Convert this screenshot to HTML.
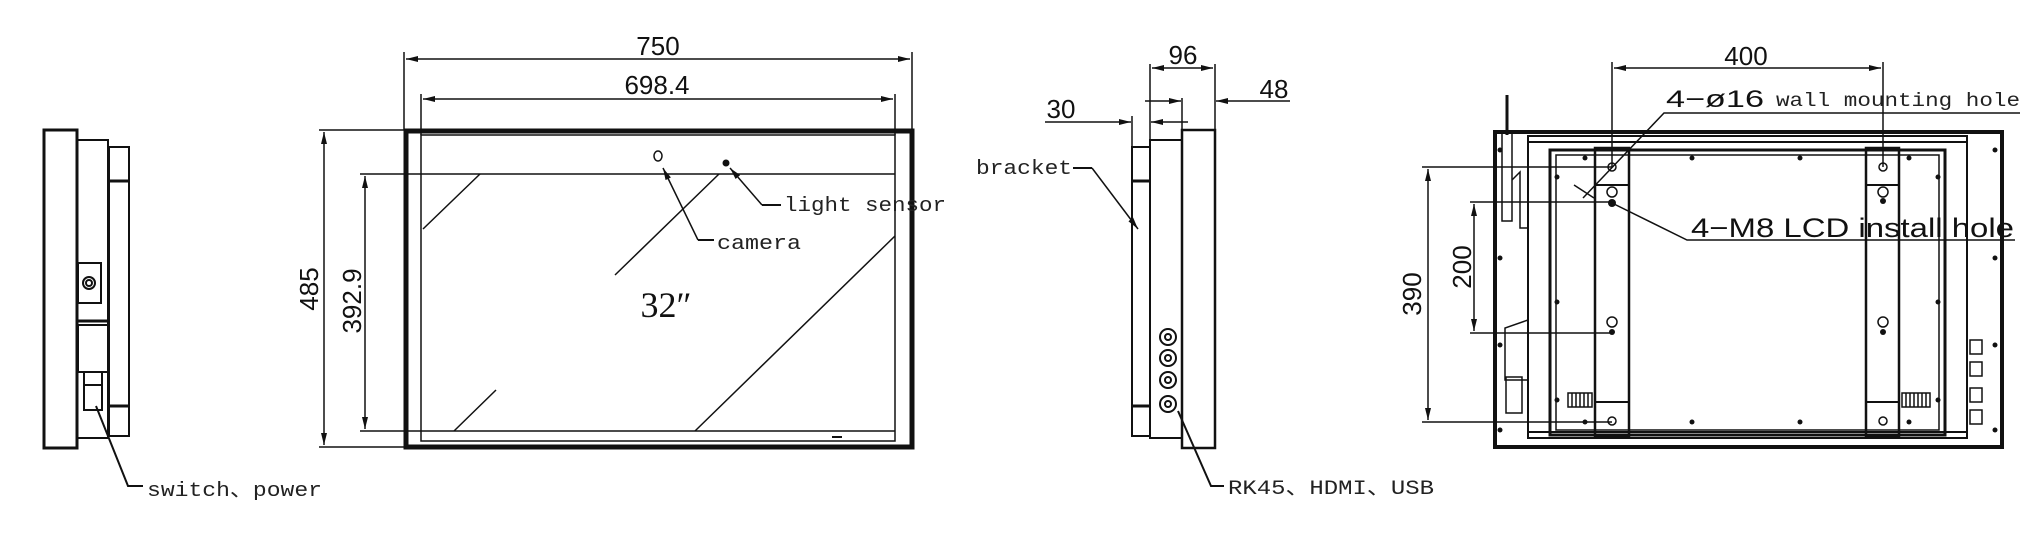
<!DOCTYPE html>
<html><head><meta charset="utf-8"><style>
html,body{margin:0;padding:0;background:#fff;}
svg{display:block;}
.s{font-family:"Liberation Sans",sans-serif;fill:#111;}
.m{font-family:"Liberation Mono","Liberation Serif",monospace;fill:#222;}
</style></head><body>
<svg width="2035" height="537" viewBox="0 0 2035 537" xmlns="http://www.w3.org/2000/svg">
<defs>
<marker id="a" viewBox="0 0 12 6" refX="12" refY="3" markerWidth="12" markerHeight="6" orient="auto-start-reverse" markerUnits="userSpaceOnUse"><path d="M0,0 L12,3 L0,6z" fill="#111"/></marker>
</defs>
<g stroke="#111" fill="none" stroke-width="2">
<!-- LEFT SIDE VIEW -->
<rect x="44" y="130" width="33" height="318" stroke-width="3"/>
<rect x="77" y="140" width="31" height="298"/>
<rect x="109" y="147" width="20" height="289"/>
<line x1="109" y1="181" x2="129" y2="181" stroke-width="3"/>
<line x1="109" y1="406" x2="129" y2="406" stroke-width="3"/>
<rect x="78" y="263" width="23" height="40"/>
<circle cx="89" cy="283" r="6"/><circle cx="89" cy="283" r="3"/>
<line x1="77" y1="321" x2="108" y2="321" stroke-width="3"/>
<rect x="78" y="325" width="30" height="47"/>
<rect x="84" y="372" width="18" height="38"/>
<line x1="84" y1="385" x2="102" y2="385"/>
<polyline points="96,406 128,486 143,486"/>
<!-- FRONT VIEW -->
<rect x="406" y="131" width="506" height="316" stroke-width="5"/>
<rect x="421" y="135" width="474" height="306" stroke-width="1.5"/>
<line x1="360" y1="174" x2="895" y2="174" stroke-width="1.5"/>
<line x1="360" y1="431" x2="895" y2="431" stroke-width="1.5"/>
<line x1="319" y1="130" x2="406" y2="130" stroke-width="1.5"/>
<line x1="319" y1="447" x2="406" y2="447" stroke-width="1.5"/>
<line x1="324" y1="132" x2="324" y2="445" stroke-width="1.5" marker-start="url(#a)" marker-end="url(#a)"/>
<line x1="365" y1="176" x2="365" y2="429" stroke-width="1.5" marker-start="url(#a)" marker-end="url(#a)"/>
<line x1="404" y1="52" x2="404" y2="130" stroke-width="1.5"/>
<line x1="912" y1="52" x2="912" y2="130" stroke-width="1.5"/>
<line x1="406" y1="59" x2="910" y2="59" stroke-width="1.5" marker-start="url(#a)" marker-end="url(#a)"/>
<line x1="421" y1="94" x2="421" y2="135" stroke-width="1.5"/>
<line x1="895" y1="94" x2="895" y2="135" stroke-width="1.5"/>
<line x1="423" y1="99" x2="893" y2="99" stroke-width="1.5" marker-start="url(#a)" marker-end="url(#a)"/>
<line x1="480" y1="174" x2="423" y2="229" stroke-width="1.5"/>
<line x1="719" y1="174" x2="615" y2="275" stroke-width="1.5"/>
<line x1="895" y1="236" x2="695" y2="431" stroke-width="1.5"/>
<line x1="496" y1="390" x2="454" y2="431" stroke-width="1.5"/>
<ellipse cx="658" cy="156" rx="4" ry="5" stroke-width="1.5"/>
<polyline points="698,240 714,240" stroke-width="2"/>
<line x1="698" y1="240" x2="663" y2="168" stroke-width="1.5" marker-end="url(#a)"/>
<circle cx="726" cy="163" r="2.5" fill="#111"/>
<line x1="762" y1="205" x2="781" y2="205" stroke-width="2"/>
<line x1="762" y1="205" x2="730" y2="168" stroke-width="1.5" marker-end="url(#a)"/>
<line x1="832" y1="437" x2="842" y2="437" stroke-width="2"/>
<!-- RIGHT SIDE VIEW -->
<rect x="1132" y="147" width="18" height="289"/>
<line x1="1132" y1="181" x2="1150" y2="181" stroke-width="3"/>
<line x1="1132" y1="406" x2="1150" y2="406" stroke-width="3"/>
<rect x="1150" y="140" width="32" height="298"/>
<rect x="1182" y="130" width="33" height="318" stroke-width="2.5"/>
<line x1="1150" y1="64" x2="1150" y2="140" stroke-width="1.5"/>
<line x1="1215" y1="64" x2="1215" y2="130" stroke-width="1.5"/>
<line x1="1152" y1="68" x2="1213" y2="68" stroke-width="1.5" marker-start="url(#a)" marker-end="url(#a)"/>
<line x1="1182" y1="98" x2="1182" y2="130" stroke-width="1.5"/>
<line x1="1145" y1="101" x2="1181" y2="101" stroke-width="1.5" marker-end="url(#a)"/>
<line x1="1290" y1="101" x2="1216" y2="101" stroke-width="1.5" marker-end="url(#a)"/>
<line x1="1132" y1="116" x2="1132" y2="147" stroke-width="1.5"/>
<line x1="1045" y1="122" x2="1131" y2="122" stroke-width="1.5" marker-end="url(#a)"/>
<line x1="1188" y1="122" x2="1151" y2="122" stroke-width="1.5" marker-end="url(#a)"/>
<polyline points="1073,168 1092,168" stroke-width="2"/>
<line x1="1092" y1="168" x2="1138" y2="229" stroke-width="1.5" marker-end="url(#a)"/>
<g stroke-width="2">
<circle cx="1168" cy="337" r="8"/><circle cx="1168" cy="337" r="3"/>
<circle cx="1168" cy="358" r="8"/><circle cx="1168" cy="358" r="3"/>
<circle cx="1168" cy="380" r="8"/><circle cx="1168" cy="380" r="3"/>
<circle cx="1168" cy="404" r="8"/><circle cx="1168" cy="404" r="3"/>
</g>
<polyline points="1178,411 1211,486 1224,486"/>
<!-- BACK VIEW -->
<rect x="1495" y="132" width="507" height="315" stroke-width="4"/>
<rect x="1528" y="136" width="439" height="302" stroke-width="2"/>
<line x1="1528" y1="142" x2="1967" y2="142"/>
<line x1="1528" y1="432" x2="1967" y2="432"/>
<rect x="1550" y="150" width="395" height="285" stroke-width="3"/>
<rect x="1556" y="155" width="383" height="275" stroke-width="1.5"/>
<rect x="1595" y="148" width="34" height="288" stroke-width="2.5"/>
<rect x="1866" y="148" width="33" height="288" stroke-width="2.5"/>
<line x1="1595" y1="185" x2="1629" y2="185"/><line x1="1866" y1="185" x2="1899" y2="185"/>
<line x1="1595" y1="402" x2="1629" y2="402"/><line x1="1866" y1="402" x2="1899" y2="402"/>
<g stroke-width="1.5">
<circle cx="1612" cy="167" r="4"/><circle cx="1883" cy="167" r="4"/>
<circle cx="1612" cy="192" r="5"/><circle cx="1883" cy="192" r="5"/>
<circle cx="1612" cy="322" r="5"/><circle cx="1883" cy="322" r="5"/>
<circle cx="1612" cy="421" r="4"/><circle cx="1883" cy="421" r="4"/>
</g>
<g fill="#111" stroke="none">
<circle cx="1612" cy="203" r="4"/><circle cx="1883" cy="201" r="3"/>
<circle cx="1612" cy="332" r="3"/><circle cx="1883" cy="332" r="3"/>
<circle cx="1585" cy="158" r="2.5"/><circle cx="1692" cy="158" r="2.5"/><circle cx="1800" cy="158" r="2.5"/><circle cx="1909" cy="158" r="2.5"/>
<circle cx="1585" cy="422" r="2.5"/><circle cx="1692" cy="422" r="2.5"/><circle cx="1800" cy="422" r="2.5"/><circle cx="1909" cy="422" r="2.5"/>
<circle cx="1557" cy="177" r="2.5"/><circle cx="1557" cy="302" r="2.5"/><circle cx="1557" cy="400" r="2.5"/>
<circle cx="1938" cy="177" r="2.5"/><circle cx="1938" cy="302" r="2.5"/><circle cx="1938" cy="400" r="2.5"/>
<circle cx="1500" cy="150" r="2.5"/><circle cx="1500" cy="258" r="2.5"/><circle cx="1500" cy="345" r="2.5"/><circle cx="1500" cy="430" r="2.5"/>
<circle cx="1995" cy="150" r="2.5"/><circle cx="1995" cy="258" r="2.5"/><circle cx="1995" cy="345" r="2.5"/><circle cx="1995" cy="430" r="2.5"/>
</g>
<!-- antenna / side parts -->
<line x1="1507" y1="95" x2="1507" y2="135" stroke-width="3"/>
<rect x="1502" y="133" width="10" height="88" stroke-width="1.5"/>
<polyline points="1512,180 1520,172 1520,228 1528,228" stroke-width="1.5"/>
<polyline points="1528,320 1505,328 1505,380 1528,380" stroke-width="1.5"/>
<rect x="1506" y="377" width="16" height="36" stroke-width="1.5"/>
<g stroke-width="1.5">
<rect x="1568" y="393" width="24" height="14"/><line x1="1572" y1="393" x2="1572" y2="407"/><line x1="1576" y1="393" x2="1576" y2="407"/><line x1="1580" y1="393" x2="1580" y2="407"/><line x1="1584" y1="393" x2="1584" y2="407"/><line x1="1588" y1="393" x2="1588" y2="407"/>
<rect x="1902" y="393" width="28" height="14"/><line x1="1906" y1="393" x2="1906" y2="407"/><line x1="1910" y1="393" x2="1910" y2="407"/><line x1="1914" y1="393" x2="1914" y2="407"/><line x1="1918" y1="393" x2="1918" y2="407"/><line x1="1922" y1="393" x2="1922" y2="407"/><line x1="1926" y1="393" x2="1926" y2="407"/>
<rect x="1970" y="340" width="12" height="14"/><rect x="1970" y="362" width="12" height="14"/><rect x="1970" y="388" width="12" height="14"/><rect x="1970" y="410" width="12" height="14"/>
</g>
<!-- dims -->
<line x1="1612" y1="62" x2="1612" y2="167" stroke-width="1.5"/>
<line x1="1883" y1="62" x2="1883" y2="167" stroke-width="1.5"/>
<line x1="1614" y1="68" x2="1881" y2="68" stroke-width="1.5" marker-start="url(#a)" marker-end="url(#a)"/>
<line x1="1422" y1="167" x2="1612" y2="167" stroke-width="1.5"/>
<line x1="1422" y1="422" x2="1612" y2="422" stroke-width="1.5"/>
<line x1="1428" y1="169" x2="1428" y2="420" stroke-width="1.5" marker-start="url(#a)" marker-end="url(#a)"/>
<line x1="1470" y1="202" x2="1612" y2="202" stroke-width="1.5"/>
<line x1="1470" y1="333" x2="1612" y2="333" stroke-width="1.5"/>
<line x1="1474" y1="204" x2="1474" y2="331" stroke-width="1.5" marker-start="url(#a)" marker-end="url(#a)"/>
<polyline points="2020,113 1664,113 1583,198" stroke-width="1.5"/>
<line x1="1574" y1="185" x2="1594" y2="198" stroke-width="1.5"/>
<polyline points="2015,240 1687,240 1612,203" stroke-width="1.5"/>
</g>
<!-- TEXT -->
<text class="m" x="147" y="496" font-size="20" textLength="175" lengthAdjust="spacingAndGlyphs">switch、power</text>
<text class="s" x="658" y="55" font-size="26" text-anchor="middle">750</text>
<text class="s" x="657" y="94" font-size="26" text-anchor="middle">698.4</text>
<text class="s" font-size="26" text-anchor="middle" transform="translate(318,289) rotate(-90)">485</text>
<text class="s" font-size="26" text-anchor="middle" transform="translate(361,301) rotate(-90)">392.9</text>
<text class="m" x="717" y="249" font-size="20" textLength="84" lengthAdjust="spacingAndGlyphs">camera</text>
<text class="m" x="784" y="211" font-size="20" textLength="162" lengthAdjust="spacingAndGlyphs">light sensor</text>
<text x="666" y="317" font-size="36" text-anchor="middle" font-family="Liberation Serif,serif" fill="#111">32″</text>
<text class="s" x="1183" y="64" font-size="26" text-anchor="middle">96</text>
<text class="s" x="1274" y="98" font-size="26" text-anchor="middle">48</text>
<text class="s" x="1061" y="118" font-size="26" text-anchor="middle">30</text>
<text class="m" x="976" y="174" font-size="20" textLength="96" lengthAdjust="spacingAndGlyphs">bracket</text>
<text class="m" x="1228" y="494" font-size="20" textLength="206" lengthAdjust="spacingAndGlyphs">RK45、HDMI、USB</text>
<text class="s" x="1746" y="65" font-size="26" text-anchor="middle">400</text>
<text class="s" font-size="26" text-anchor="middle" transform="translate(1421,294) rotate(-90)">390</text>
<text class="s" font-size="26" text-anchor="middle" transform="translate(1471,267) rotate(-90)">200</text>
<text class="s" x="1666" y="107" font-size="24" textLength="98" lengthAdjust="spacingAndGlyphs">4−ø16</text>
<text class="m" x="1776" y="106" font-size="19" textLength="244" lengthAdjust="spacingAndGlyphs">wall mounting hole</text>
<text class="s" x="1691" y="237" font-size="27" textLength="323" lengthAdjust="spacingAndGlyphs">4−M8 LCD install hole</text>
</svg>
</body></html>
